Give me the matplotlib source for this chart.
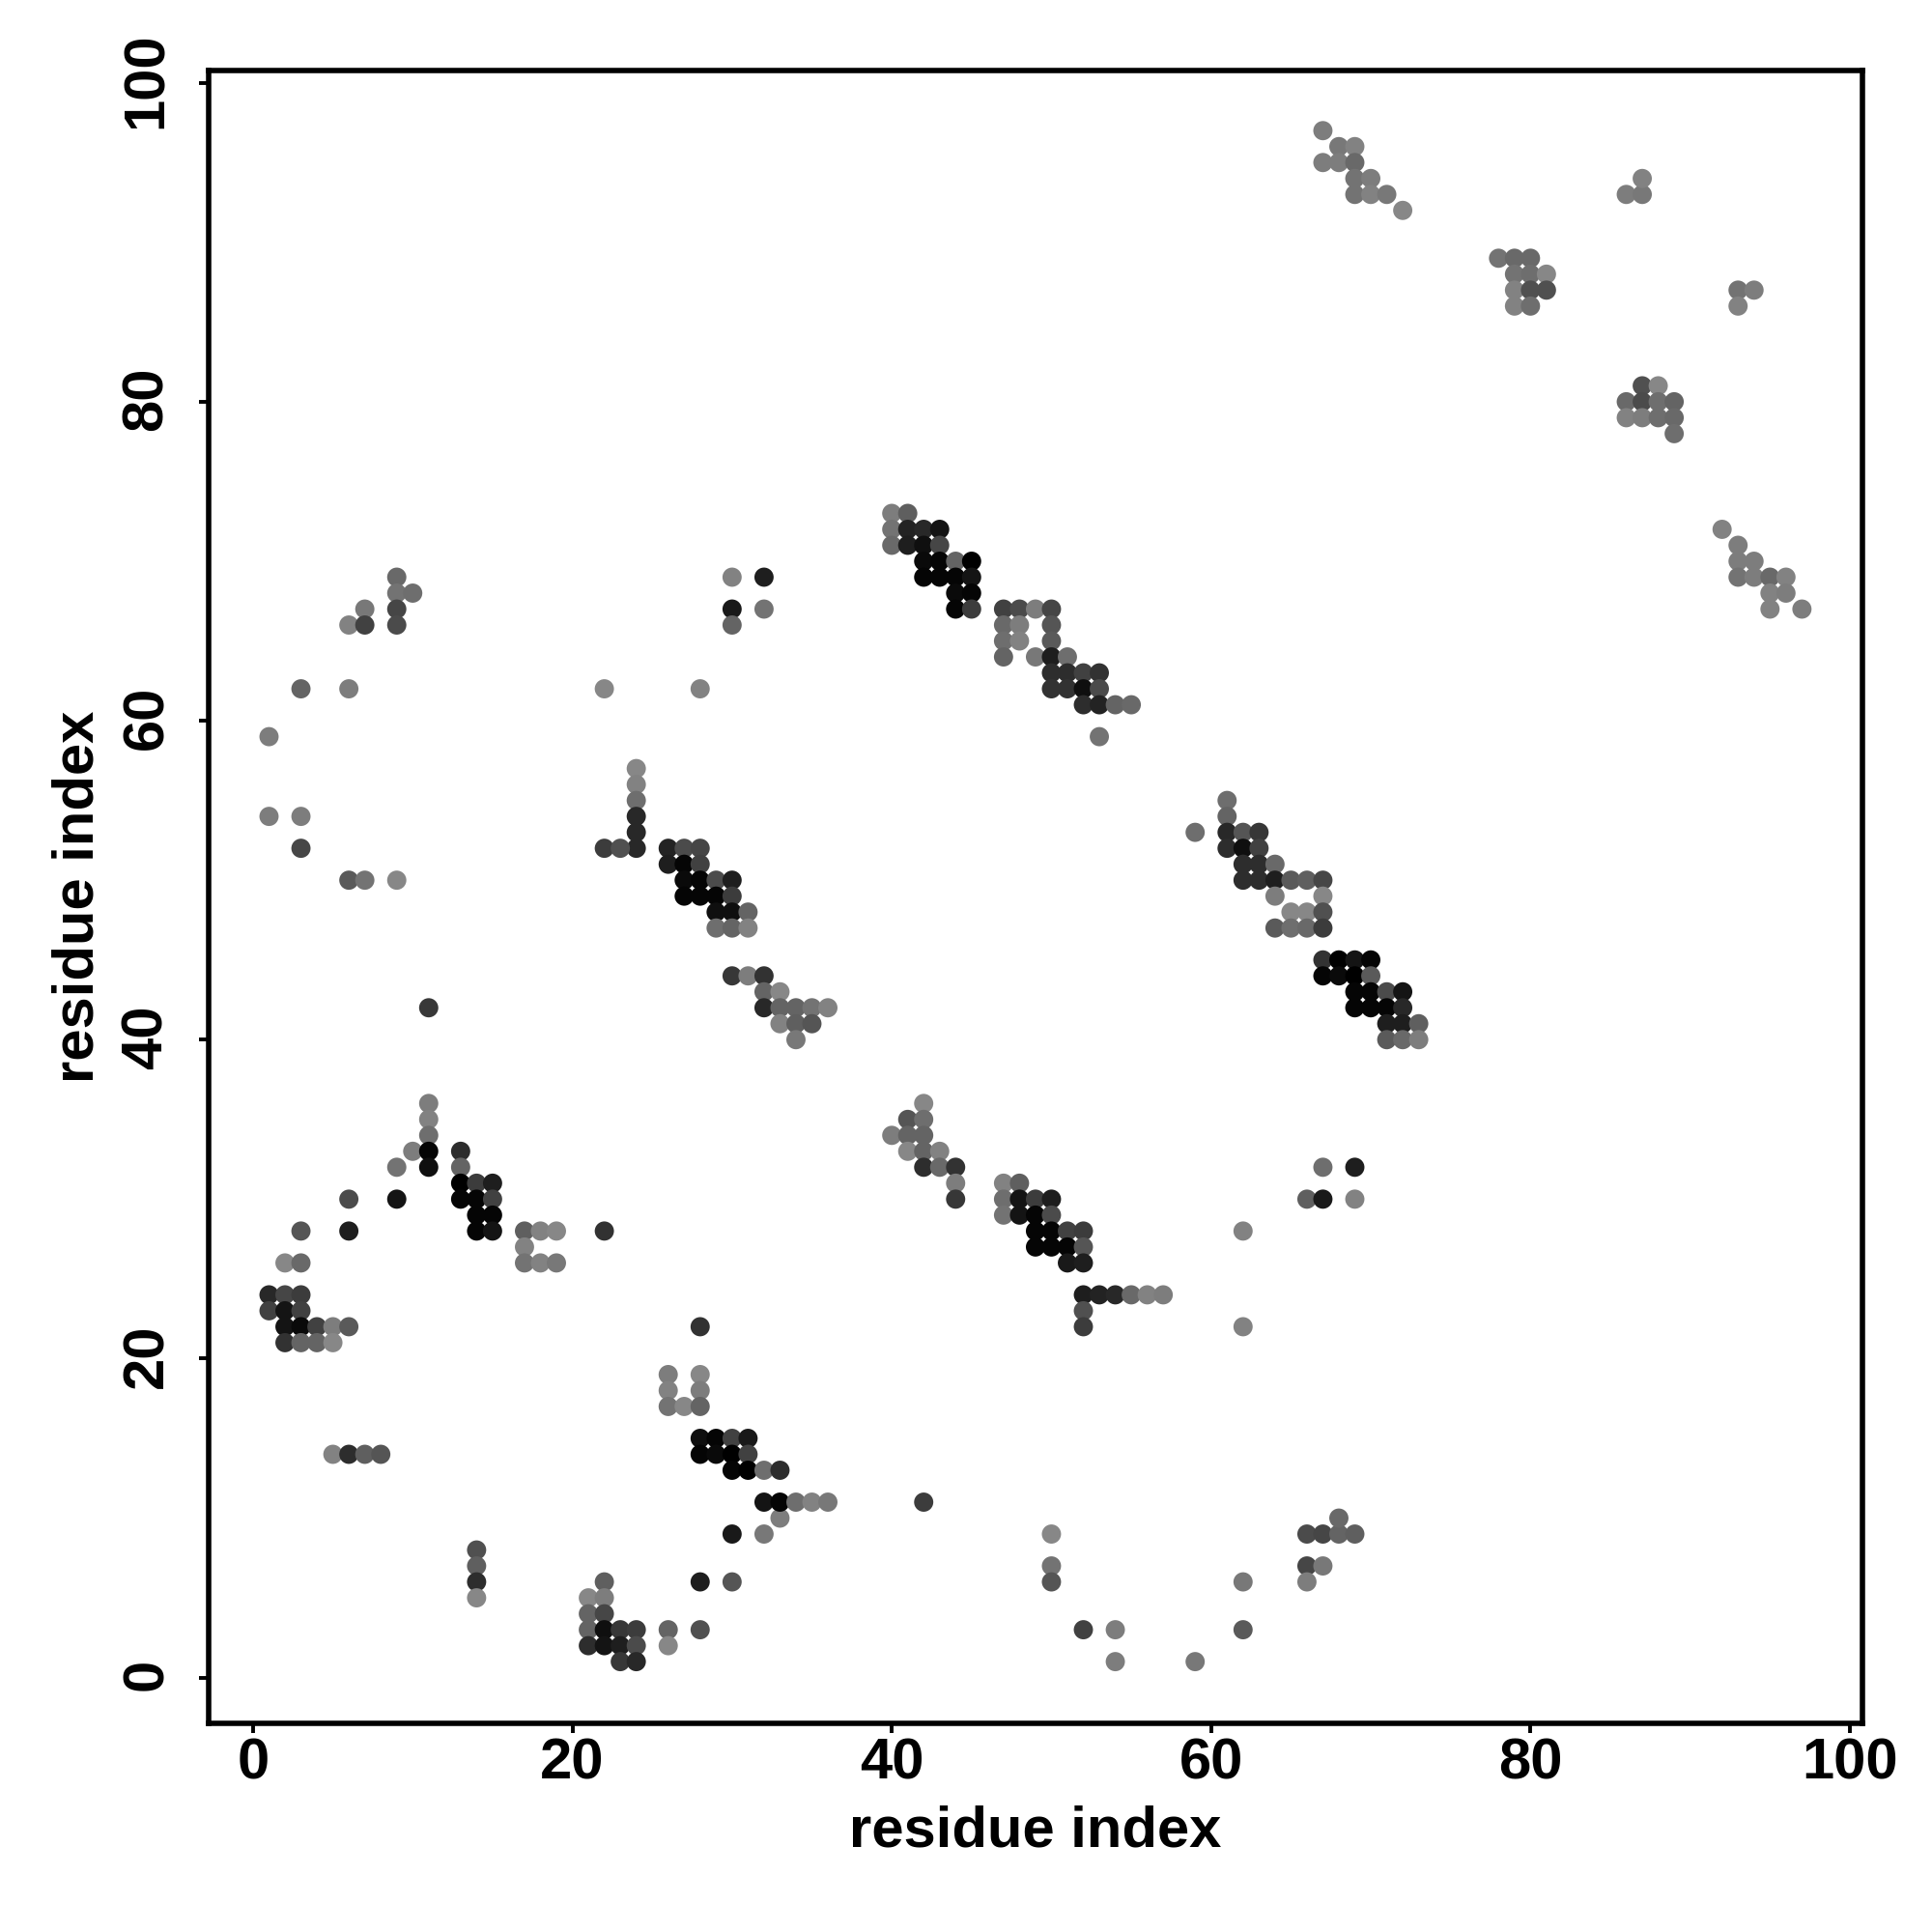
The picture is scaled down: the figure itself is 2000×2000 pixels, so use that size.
import matplotlib
matplotlib.use("Agg")
import matplotlib.pyplot as plt
from matplotlib.transforms import ScaledTranslation

# contact map, one line per row of a cluster: x, y and grey level (0-255) line up
res_x = [
    11,
    11, 11, 11, 10, 11, 11, 9,
    6, 9, 13, 13,
    13, 14, 15, 13, 14, 15, 14, 15, 14, 15,
    3, 6, 17, 18, 19, 17, 17, 18, 19, 22,
    2, 3,
    1, 2, 3, 1, 2, 3,
    2, 3, 4, 5, 6, 2, 3, 4, 5,
    5, 6, 7, 8,
    14, 14, 14, 14,
    22, 21, 22, 21, 22,
    21, 22, 23, 24, 21, 22, 23, 24, 23, 24,
    26, 26, 28, 28, 30, 30, 32, 33,
    32, 33, 34, 35, 36,
    28, 26, 28, 26, 28, 26, 27, 28,
    28, 29, 30, 31, 28, 29, 30, 31, 30, 31, 32, 33,
    9, 9, 10, 7, 9, 6, 7, 9,
    30, 32, 30, 32, 30,
    3, 6, 22, 28, 1,
    24, 24, 24, 24, 24, 24, 22, 23,
    1, 3, 3, 6, 7, 9,
    26, 27, 28, 26, 27, 28,
    27, 28, 29, 30, 27, 28, 29, 30,
    29, 30, 31, 29, 30, 31,
    30, 31, 32, 32, 33,
    32, 33, 34, 35, 36, 33, 34, 35, 34,
    42, 41, 42, 40, 41, 42, 41, 42, 43, 42, 43, 44, 44, 44,
    47, 48, 47, 48, 49, 50, 47, 48, 49, 50,
    49, 50, 51, 52, 49, 50, 51, 52, 51, 52,
    52, 53, 54, 55, 56, 57, 52, 52,
    62, 62, 67, 69, 66, 67, 69,
    42, 50, 50, 50, 52, 54, 54, 59, 62, 62,
    66, 67, 68, 69, 68, 66, 67, 66,
    40, 41, 40, 41, 42, 43, 40, 41, 42, 43,
    42, 43, 44, 45, 42, 43, 44, 45, 44, 45, 44, 45,
    47, 48, 49, 50, 47, 48, 50, 47, 48, 50,
    47, 49, 50, 51, 50, 51, 52, 53, 50, 51, 52, 53,
    52, 53, 54, 55, 53,
    61, 61, 59, 61, 62, 63, 61, 62, 63, 62, 63, 64,
    62, 63, 64, 65, 66, 67, 64, 67, 65, 66, 67, 64, 65, 66, 67,
    67, 68, 69, 70, 67, 68, 69, 70,
    69, 70, 71, 72, 69, 70, 71, 72,
    71, 72, 73, 71, 72, 73,
    67, 68, 69, 67, 68, 69, 69, 70, 69, 70, 71, 72,
    86, 87, 87,
    78, 79, 80, 79, 80, 81, 79, 80, 81, 79, 80,
    93, 94, 93,
    87, 88, 86, 87, 88, 89, 86, 87, 88, 89, 89,
    92, 93, 93, 94, 93, 94, 95, 96, 95, 96, 95, 97,
]
res_y = [
    42,
    36, 35, 34, 33, 33, 32, 32,
    30, 30, 33, 32,
    31, 31, 31, 30, 30, 30, 29, 29, 28, 28,
    28, 28, 28, 28, 28, 27, 26, 26, 26, 28,
    26, 26,
    24, 24, 24, 23, 23, 23,
    22, 22, 22, 22, 22, 21, 21, 21, 21,
    14, 14, 14, 14,
    8, 7, 6, 5,
    6, 5, 5, 4, 4,
    3, 3, 3, 3, 2, 2, 2, 2, 1, 1,
    3, 2, 3, 6, 6, 9, 9, 10,
    11, 11, 11, 11, 11,
    22, 19, 19, 18, 18, 17, 17, 17,
    15, 15, 15, 15, 14, 14, 14, 14, 13, 13, 13, 13,
    69, 68, 68, 67, 67, 66, 66, 66,
    69, 69, 67, 67, 66,
    62, 62, 62, 62, 59,
    57, 56, 55, 54, 53, 52, 52, 52,
    54, 54, 52, 50, 50, 50,
    52, 52, 52, 51, 51, 51,
    50, 50, 50, 50, 49, 49, 49, 49,
    48, 48, 48, 47, 47, 47,
    44, 44, 44, 43, 43,
    42, 42, 42, 42, 42, 41, 41, 41, 40,
    36, 35, 35, 34, 34, 34, 33, 33, 33, 32, 32, 32, 31, 30,
    31, 31, 30, 30, 30, 30, 29, 29, 29, 29,
    28, 28, 28, 28, 27, 27, 27, 27, 26, 26,
    24, 24, 24, 24, 24, 24, 23, 22,
    28, 22, 32, 32, 30, 30, 30,
    11, 9, 7, 6, 3, 3, 1, 1, 6, 3,
    9, 9, 9, 9, 10, 7, 7, 6,
    73, 73, 72, 72, 72, 72, 71, 71, 71, 71,
    70, 70, 70, 70, 69, 69, 69, 69, 68, 68, 67, 67,
    67, 67, 67, 67, 66, 66, 66, 65, 65, 65,
    64, 64, 64, 64, 63, 63, 63, 63, 62, 62, 62, 62,
    61, 61, 61, 61, 59,
    55, 54, 53, 53, 53, 53, 52, 52, 52, 51, 51, 51,
    50, 50, 50, 50, 50, 50, 49, 49, 48, 48, 48, 47, 47, 47, 47,
    45, 45, 45, 45, 44, 44, 44, 44,
    43, 43, 43, 43, 42, 42, 42, 42,
    41, 41, 41, 40, 40, 40,
    97, 96, 96, 95, 95, 95, 94, 94, 93, 93, 93, 92,
    93, 93, 94,
    89, 89, 89, 88, 88, 88, 87, 87, 87, 86, 86,
    87, 87, 86,
    81, 81, 80, 80, 80, 80, 79, 79, 79, 79, 78,
    72, 71, 70, 70, 69, 69, 69, 69, 68, 68, 67, 67,
]
res_gray = [
    56,
    125, 130, 110, 125, 5, 15, 115,
    75, 20, 45, 100,
    0, 60, 30, 5, 5, 65, 5, 5, 5, 20,
    85, 30, 95, 130, 135, 130, 115, 130, 120, 50,
    135, 105,
    40, 70, 60, 65, 20, 65,
    20, 10, 65, 125, 90, 50, 100, 100, 135,
    130, 45, 95, 85,
    80, 95, 45, 135,
    95, 135, 125, 100, 70,
    100, 15, 55, 60, 45, 20, 30, 75, 55, 40,
    100, 135, 80, 30, 85, 25, 120, 125,
    20, 5, 110, 130, 120,
    50, 125, 135, 130, 125, 115, 135, 100,
    15, 5, 65, 25, 5, 10, 0, 65, 5, 0, 110, 45,
    105, 115, 110, 120, 70, 130, 65, 75,
    130, 30, 25, 115, 100,
    100, 125, 135, 130, 125,
    135, 130, 110, 40, 40, 40, 60, 80,
    125, 125, 70, 90, 115, 135,
    35, 75, 70, 30, 5, 65,
    10, 5, 75, 30, 5, 5, 5, 60,
    15, 15, 100, 110, 100, 130,
    55, 125, 50, 100, 135,
    40, 100, 100, 115, 130, 130, 95, 85, 120,
    135, 85, 110, 125, 100, 100, 135, 100, 130, 45, 105, 50, 125, 55,
    130, 95, 110, 20, 60, 30, 115, 20, 5, 75,
    5, 5, 65, 60, 5, 5, 5, 85, 25, 30,
    30, 35, 40, 105, 130, 125, 80, 60,
    130, 130, 110, 30, 95, 25, 130,
    60, 135, 115, 85, 65, 125, 125, 120, 120, 90,
    75, 70, 100, 95, 105, 70, 120, 125,
    125, 95, 115, 35, 40, 20, 105, 30, 15, 70,
    10, 5, 100, 0, 5, 5, 5, 20, 10, 5, 5, 60,
    65, 75, 125, 70, 105, 125, 85, 110, 130, 90,
    100, 120, 30, 110, 45, 45, 65, 50, 50, 50, 15, 75,
    45, 35, 100, 105, 115,
    110, 100, 110, 40, 85, 55, 45, 15, 65, 45, 45, 105,
    45, 45, 30, 90, 95, 70, 125, 135, 135, 135, 80, 90, 110, 105, 60,
    50, 0, 20, 5, 5, 10, 0, 90,
    5, 5, 75, 20, 5, 5, 5, 40,
    30, 30, 95, 90, 105, 125,
    125, 120, 130, 125, 125, 105, 115, 125, 115, 130, 120, 135,
    125, 120, 130,
    115, 105, 105, 115, 110, 135, 130, 80, 80, 130, 110,
    115, 125, 130,
    80, 135, 105, 75, 110, 100, 130, 125, 110, 105, 110,
    130, 125, 125, 125, 115, 125, 105, 130, 130, 125, 130, 125,
]
x_ticks = [0, 20, 40, 60, 80, 100]
y_ticks = [0, 20, 40, 60, 80, 100]

plt.rcParams['font.family'] = ['Liberation Sans', 'DejaVu Sans']
plt.rcParams['font.weight'] = 'bold'

fig = plt.figure(figsize=(20, 20), dpi=100)
ax = fig.add_axes([216 / 2000, 1 - 1784 / 2000, 1712 / 2000, 1711 / 2000])

colors = [(g / 255, g / 255, g / 255) for g in res_gray]
ax.scatter(res_x, res_y, c=colors, s=205, linewidths=0, zorder=3)

ax.set_xlim(-2.78, 100.79)
ax.set_ylim(-2.87, 100.77)
ax.set_xticks(x_ticks)
ax.set_yticks(y_ticks)
ax.tick_params(length=7.5, width=2.8, labelsize=43)
ax.tick_params(axis='x', pad=3)
ax.tick_params(axis='y', labelrotation=90, pad=18.5)
# nudge the rotated labels up a little, they sit low otherwise
shift_up = ScaledTranslation(0, 2 / 72, fig.dpi_scale_trans)
for t in ax.get_yticklabels():
    t.set_va('center')
    t.set_transform(t.get_transform() + shift_up)
for s in ax.spines.values():
    s.set_linewidth(4.0)

ax.set_xlabel('residue index', fontsize=43, fontweight='bold', labelpad=11)
ax.set_ylabel('residue index', fontsize=43, fontweight='bold', labelpad=12)

fig.savefig('out.png', dpi=100, facecolor='white')
